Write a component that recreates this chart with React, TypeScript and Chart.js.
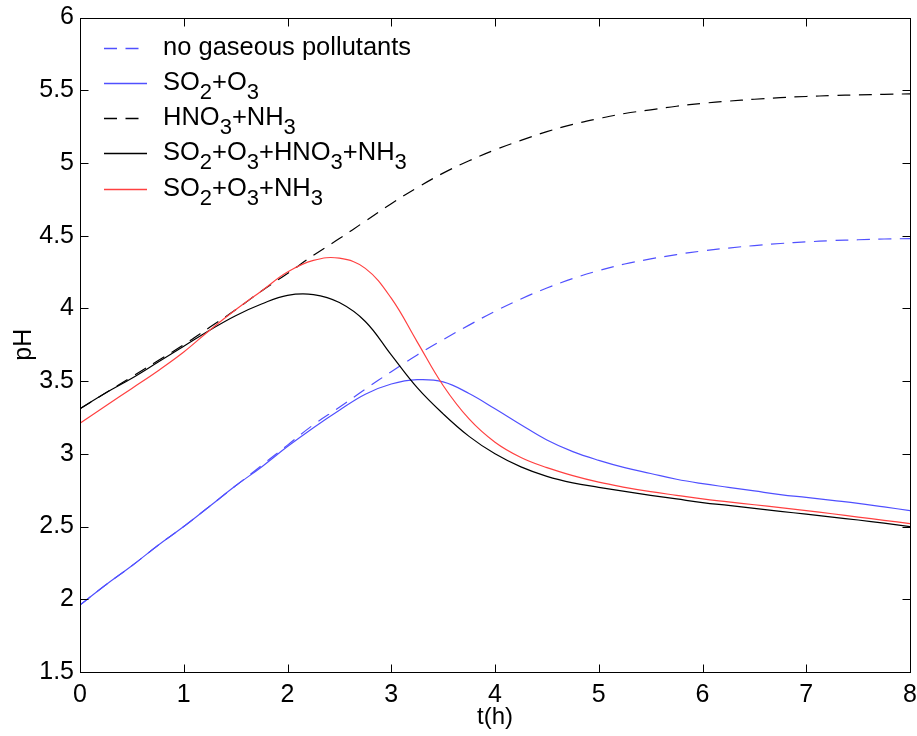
import React, { useEffect, useRef } from "react";
import { Chart, registerables } from "chart.js";

Chart.register(...registerables);

// ---- data ----
const tHours = [
  0, 0.25, 0.5, 0.75, 1, 1.25, 1.5, 1.75, 2, 2.25, 2.5, 2.75, 3, 3.25, 3.5, 3.75,
  4, 4.25, 4.5, 4.75, 5, 5.25, 5.5, 5.75, 6, 6.25, 6.5, 6.75, 7, 7.25, 7.5, 7.75, 8,
];

const noGaseousPollutants = [
  1.96, 2.1, 2.23, 2.37, 2.5, 2.64, 2.78, 2.92, 3.06, 3.2, 3.32, 3.445, 3.565, 3.68, 3.785, 3.885,
  3.98, 4.065, 4.14, 4.205, 4.26, 4.305, 4.34, 4.37, 4.395, 4.415, 4.432, 4.446, 4.457, 4.466, 4.472, 4.477, 4.48,
];

const so2O3 = [
  1.96, 2.1, 2.23, 2.37, 2.5, 2.64, 2.78, 2.91, 3.05, 3.18, 3.3, 3.41, 3.48, 3.51, 3.495, 3.415,
  3.31, 3.2, 3.095, 3.015, 2.955, 2.905, 2.865, 2.825, 2.795, 2.77, 2.745, 2.72, 2.7, 2.68, 2.66, 2.635, 2.61,
];

const hno3Nh3 = [
  3.31, 3.42, 3.53, 3.64, 3.75, 3.87, 3.99, 4.12, 4.24, 4.365, 4.48, 4.6, 4.72, 4.83, 4.93, 5.015,
  5.09, 5.155, 5.215, 5.265, 5.305, 5.34, 5.365, 5.39, 5.41, 5.425, 5.438, 5.449, 5.457, 5.463, 5.468, 5.472, 5.475,
];

const so2O3Hno3Nh3 = [
  3.31, 3.42, 3.52, 3.63, 3.74, 3.85, 3.95, 4.03, 4.09, 4.095, 4.04, 3.91, 3.68, 3.455, 3.275, 3.12,
  3.0, 2.91, 2.845, 2.8, 2.77, 2.742, 2.715, 2.69, 2.665, 2.645, 2.625, 2.605, 2.585, 2.565, 2.545, 2.523, 2.5,
];

const so2O3Nh3 = [
  3.21, 3.33, 3.45, 3.57, 3.7, 3.85, 3.99, 4.12, 4.25, 4.33, 4.345, 4.275, 4.07, 3.77, 3.47, 3.24,
  3.08, 2.975, 2.905, 2.85, 2.805, 2.77, 2.74, 2.715, 2.69, 2.67, 2.65, 2.63, 2.61, 2.588, 2.565, 2.543, 2.52,
];

const xTickValues = [0, 1, 2, 3, 4, 5, 6, 7, 8];
const yTickValues = [1.5, 2, 2.5, 3, 3.5, 4, 4.5, 5, 5.5, 6];

// legend labels, "_d" marks a subscript digit
const legendLabels = [
  "no gaseous pollutants",
  "SO_2+O_3",
  "HNO_3+NH_3",
  "SO_2+O_3+HNO_3+NH_3",
  "SO_2+O_3+NH_3",
];
const seriesNames = [
  "no gaseous pollutants",
  "SO₂+O₃",
  "HNO₃+NH₃",
  "SO₂+O₃+HNO₃+NH₃",
  "SO₂+O₃+NH₃",
];
const seriesValues = [noGaseousPollutants, so2O3, hno3Nh3, so2O3Hno3Nh3, so2O3Nh3];
const seriesColors = ["rgb(80,80,255)", "rgb(80,80,255)", "#000000", "#000000", "rgb(255,64,64)"];
const seriesDashed = [true, false, true, false, false];

const FONT_FAMILY = '"Liberation Sans", Arial, Helvetica, sans-serif';
const DASH = [13, 8.5];

function drawRichText(ctx: CanvasRenderingContext2D, text: string, x: number, y: number) {
  const parts = text.split(/(_\d)/);
  let cx = x;
  for (const p of parts) {
    if (!p) continue;
    if (p[0] === "_") {
      const s = p.slice(1);
      ctx.font = `22px ${FONT_FAMILY}`;
      ctx.fillText(s, cx, y + 10);
      cx += ctx.measureText(s).width;
    } else {
      ctx.font = `25.5px ${FONT_FAMILY}`;
      ctx.fillText(p, cx, y);
      cx += ctx.measureText(p).width;
    }
  }
}

const framePlugin = {
  id: "matlabFrame",
  afterDraw(chart: any) {
    const ctx: CanvasRenderingContext2D = chart.ctx;
    const { left, right, top, bottom } = chart.chartArea;
    const xs = chart.scales.x;
    const ys = chart.scales.y;
    ctx.save();
    ctx.strokeStyle = "#000";
    ctx.lineWidth = 1;
    ctx.setLineDash([]);
    const L = Math.round(left) + 0.5;
    const R = Math.round(right) + 0.5;
    const T = Math.round(top) + 0.5;
    const B = Math.round(bottom) + 0.5;
    ctx.strokeRect(L, T, R - L, B - T);
    const tick = 8;
    ctx.beginPath();
    for (const v of xTickValues) {
      const px = Math.round(xs.getPixelForValue(v)) + 0.5;
      ctx.moveTo(px, B);
      ctx.lineTo(px, B - tick);
      ctx.moveTo(px, T);
      ctx.lineTo(px, T + tick);
    }
    for (const v of yTickValues) {
      const py = Math.round(ys.getPixelForValue(v)) + 0.5;
      ctx.moveTo(L, py);
      ctx.lineTo(L + tick, py);
      ctx.moveTo(R, py);
      ctx.lineTo(R - tick, py);
    }
    ctx.stroke();

    // legend (MATLAB style, no box)
    const lx0 = left + 24;
    const lx1 = left + 67;
    const tx = left + 83;
    ctx.textBaseline = "middle";
    ctx.textAlign = "left";
    legendLabels.forEach((label, i) => {
      const y = top + 30 + i * 35.3;
      ctx.save();
      ctx.strokeStyle = seriesColors[i];
      ctx.lineWidth = 1.3;
      ctx.setLineDash(seriesDashed[i] ? DASH : []);
      ctx.beginPath();
      ctx.moveTo(lx0, Math.round(y) + 0.5);
      ctx.lineTo(lx1, Math.round(y) + 0.5);
      ctx.stroke();
      ctx.restore();
      ctx.fillStyle = "#000";
      drawRichText(ctx, label, tx, y);
    });
    ctx.restore();
  },
};

export default function App() {
  const canvasRef = useRef<HTMLCanvasElement | null>(null);

  useEffect(() => {
    const canvas = canvasRef.current;
    if (!canvas) return;
    const datasets = seriesValues.map((vals, i) => ({
      label: seriesNames[i],
      data: tHours.map((t, k) => ({ x: t, y: vals[k] })),
      borderColor: seriesColors[i],
      backgroundColor: seriesColors[i],
      borderWidth: 1.2,
      borderDash: seriesDashed[i] ? DASH : [],
      pointRadius: 0,
      showLine: true,
      fill: false,
      tension: 0.4,
      order: seriesValues.length - 1 - i,
    }));

    const chart = new Chart(canvas, {
      type: "scatter",
      data: { datasets },
      options: {
        responsive: false,
        animation: false,
        events: [],
        layout: { padding: { top: 17.5, right: 7, left: 0, bottom: 0 } },
        plugins: {
          legend: { display: false },
          tooltip: { enabled: false },
          title: { display: false },
        },
        scales: {
          x: {
            type: "linear",
            min: 0,
            max: 8,
            afterBuildTicks: (scale: any) => {
              scale.ticks = xTickValues.map((v) => ({ value: v }));
            },
            afterFit: (scale: any) => {
              scale.height = 64;
              scale.paddingLeft = 0;
              scale.paddingRight = 0;
            },
            grid: { display: false, drawTicks: false },
            border: { display: false },
            ticks: {
              color: "#000",
              padding: 8,
              maxRotation: 0,
              callback: (v: any) => String(v),
              font: { family: FONT_FAMILY, size: 25 },
            },
            title: {
              display: true,
              text: "t(h)",
              color: "#000",
              padding: 4,
              font: { family: FONT_FAMILY, size: 24 },
            },
          },
          y: {
            type: "linear",
            min: 1.5,
            max: 6,
            afterBuildTicks: (scale: any) => {
              scale.ticks = yTickValues.map((v) => ({ value: v }));
            },
            afterFit: (scale: any) => {
              scale.width = 80;
              scale.paddingTop = 0;
              scale.paddingBottom = 0;
            },
            grid: { display: false, drawTicks: false },
            border: { display: false },
            ticks: {
              color: "#000",
              padding: 6,
              callback: (v: any) => String(v),
              font: { family: FONT_FAMILY, size: 25 },
            },
            title: {
              display: true,
              text: "pH",
              color: "#000",
              padding: 9,
              font: { family: FONT_FAMILY, size: 25 },
            },
          },
        },
      },
      plugins: [framePlugin],
    });
    return () => chart.destroy();
  }, []);

  return (
    <canvas
      ref={canvasRef}
      width={917}
      height={736}
      style={{ position: "absolute", left: 0, top: 0, width: 917, height: 736, background: "#fff" }}
    />
  );
}
